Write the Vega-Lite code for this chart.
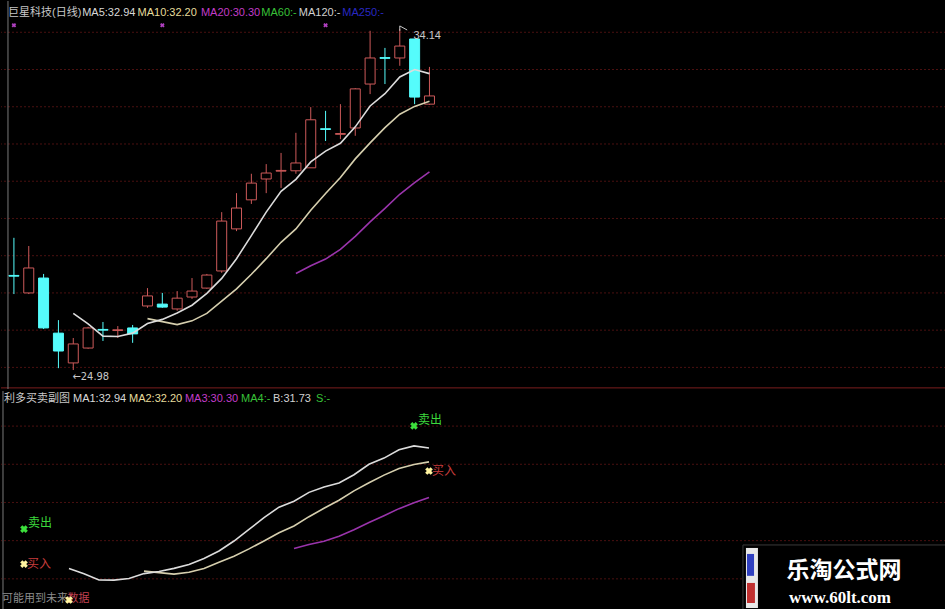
{
  "$schema": "https://vega.github.io/schema/vega-lite/v6.json",
  "background": "#000000",
  "padding": 0,
  "spacing": 2,
  "bounds": "flush",
  "config": {
    "view": {"stroke": null},
    "axis": {"disable": true},
    "legend": {"disable": true},
    "text": {"font": "Liberation Sans, Noto Sans CJK SC", "fontSize": 11, "align": "left", "baseline": "middle"}
  },
  "datasets": {
    "k": [
      {"i": 1, "o": 27.52, "h": 28.53, "l": 27.02, "c": 27.50},
      {"i": 2, "o": 27.05, "h": 28.31, "l": 27.02, "c": 27.72},
      {"i": 3, "o": 27.45, "h": 27.56, "l": 26.08, "c": 26.11},
      {"i": 4, "o": 25.97, "h": 26.32, "l": 25.03, "c": 25.49},
      {"i": 5, "o": 25.17, "h": 25.84, "l": 24.98, "c": 25.68, "m5": 26.50},
      {"i": 6, "o": 25.57, "h": 26.14, "l": 25.55, "c": 26.11, "m5": 26.22},
      {"i": 7, "o": 26.07, "h": 26.27, "l": 25.76, "c": 26.05, "m5": 25.89},
      {"i": 8, "o": 26.04, "h": 26.16, "l": 25.84, "c": 26.06, "m5": 25.88},
      {"i": 9, "o": 26.11, "h": 26.19, "l": 25.71, "c": 25.95, "m5": 25.97},
      {"i": 10, "o": 26.70, "h": 27.18, "l": 26.65, "c": 26.97, "m5": 26.23, "m10": 26.36},
      {"i": 11, "o": 26.75, "h": 27.05, "l": 26.65, "c": 26.67, "m5": 26.34, "m10": 26.28},
      {"i": 12, "o": 26.62, "h": 27.10, "l": 26.57, "c": 26.91, "m5": 26.51, "m10": 26.20},
      {"i": 13, "o": 26.94, "h": 27.45, "l": 26.89, "c": 27.10, "m5": 26.72, "m10": 26.30},
      {"i": 14, "o": 27.18, "h": 27.56, "l": 27.16, "c": 27.53, "m5": 27.04, "m10": 26.50},
      {"i": 15, "o": 27.64, "h": 29.22, "l": 27.59, "c": 28.98, "m5": 27.44, "m10": 26.83},
      {"i": 16, "o": 28.77, "h": 29.73, "l": 28.71, "c": 29.33, "m5": 27.97, "m10": 27.16},
      {"i": 17, "o": 29.55, "h": 30.25, "l": 29.44, "c": 30.00, "m5": 28.59, "m10": 27.55},
      {"i": 18, "o": 30.11, "h": 30.51, "l": 29.73, "c": 30.27, "m5": 29.22, "m10": 27.97},
      {"i": 19, "o": 30.32, "h": 30.81, "l": 29.87, "c": 30.34, "m5": 29.78, "m10": 28.41},
      {"i": 20, "o": 30.33, "h": 31.35, "l": 30.25, "c": 30.54, "m5": 30.10, "m10": 28.77, "m20": 27.57},
      {"i": 21, "o": 30.41, "h": 32.04, "l": 30.41, "c": 31.70, "m5": 30.57, "m10": 29.27, "m20": 27.78},
      {"i": 22, "o": 31.46, "h": 31.94, "l": 31.13, "c": 31.44, "m5": 30.86, "m10": 29.72, "m20": 27.96},
      {"i": 23, "o": 31.31, "h": 32.12, "l": 31.18, "c": 31.33, "m5": 31.07, "m10": 30.15, "m20": 28.22},
      {"i": 24, "o": 31.48, "h": 32.55, "l": 31.27, "c": 32.53, "m5": 31.51, "m10": 30.65, "m20": 28.57},
      {"i": 25, "o": 32.66, "h": 34.09, "l": 32.39, "c": 33.36, "m5": 32.07, "m10": 31.08, "m20": 28.96},
      {"i": 26, "o": 33.37, "h": 33.63, "l": 32.66, "c": 33.35, "m5": 32.40, "m10": 31.49, "m20": 29.32},
      {"i": 27, "o": 33.36, "h": 34.14, "l": 33.15, "c": 33.68, "m5": 32.85, "m10": 31.85, "m20": 29.70},
      {"i": 28, "o": 33.87, "h": 33.87, "l": 32.12, "c": 32.31, "m5": 33.05, "m10": 32.06, "m20": 30.01},
      {"i": 29, "o": 32.12, "h": 33.12, "l": 32.10, "c": 32.34, "m5": 32.94, "m10": 32.20, "m20": 30.30}
    ],
    "sig": [
      {"i": 2, "v": 28.61, "k": "sell", "s": "卖出"},
      {"i": 2, "v": 26.74, "k": "buy", "s": "买入"},
      {"i": 5, "v": 24.82, "k": "buy", "s": ""},
      {"i": 28, "v": 34.12, "k": "sell", "s": "卖出"},
      {"i": 29, "v": 31.71, "k": "buy", "s": "买入"}
    ]
  },
  "vconcat": [
    {
      "width": 945,
      "height": 388,
      "layer": [
        {
          "data": {"values": [{"g": 25.05}, {"g": 26.05}, {"g": 27.05}, {"g": 28.05}, {"g": 29.05}, {"g": 30.05}, {"g": 31.05}, {"g": 32.05}, {"g": 33.05}, {"g": 34.05}]},
          "mark": {"type": "rule", "color": "#4a1010", "strokeWidth": 1, "strokeDash": [2, 2]},
          "encoding": {
            "y": {"field": "g", "type": "quantitative", "scale": {"domain": [24.47, 34.89], "nice": false, "zero": false}}
          }
        },
        {
          "data": {"values": [{}]},
          "mark": {"type": "rule", "color": "#7a1e1e", "strokeWidth": 1},
          "encoding": {"y": {"datum": 24.5}}
        },
        {
          "data": {"values": [{}]},
          "mark": {"type": "rule", "color": "#7a7a7a", "strokeWidth": 1},
          "encoding": {"x": {"datum": 0.6, "scale": {"domain": [0.467, 63.467], "nice": false, "zero": false}}}
        },
        {
          "data": {"name": "k"},
          "mark": {"type": "rule", "strokeWidth": 1},
          "encoding": {
            "x": {"field": "i", "type": "quantitative"},
            "y": {"field": "l", "type": "quantitative"},
            "y2": {"field": "h"},
            "color": {"condition": {"test": "datum.c >= datum.o", "value": "#cd5a5a"}, "value": "#55fcfc"}
          }
        },
        {
          "data": {"name": "k"},
          "mark": {"type": "bar", "size": 10, "strokeWidth": 1},
          "encoding": {
            "x": {"field": "i", "type": "quantitative"},
            "y": {"field": "o", "type": "quantitative"},
            "y2": {"field": "c"},
            "stroke": {"condition": {"test": "datum.c >= datum.o", "value": "#cd5a5a"}, "value": "#55fcfc"},
            "fill": {"condition": {"test": "datum.c >= datum.o", "value": "#000000"}, "value": "#55fcfc"}
          }
        },
        {
          "data": {"name": "k"},
          "mark": {"type": "line", "color": "#9a34ac", "strokeWidth": 1.6},
          "encoding": {"x": {"field": "i", "type": "quantitative"}, "y": {"field": "m20", "type": "quantitative"}}
        },
        {
          "data": {"name": "k"},
          "mark": {"type": "line", "color": "#d6cfae", "strokeWidth": 1.6},
          "encoding": {"x": {"field": "i", "type": "quantitative"}, "y": {"field": "m10", "type": "quantitative"}}
        },
        {
          "data": {"name": "k"},
          "mark": {"type": "line", "color": "#dcdcdc", "strokeWidth": 1.6},
          "encoding": {"x": {"field": "i", "type": "quantitative"}, "y": {"field": "m5", "type": "quantitative"}}
        },
        {
          "data": {"values": [{"i": 1}, {"i": 11}, {"i": 22}]},
          "mark": {"type": "point", "shape": "cross", "angle": 45, "filled": true, "size": 22, "color": "#b040c0", "opacity": 1},
          "encoding": {"x": {"field": "i", "type": "quantitative"}, "y": {"datum": 34.24}}
        },
        {
          "data": {"values": [{"n": 1, "i": 27.0, "p": 34.09}, {"n": 2, "i": 27.0, "p": 34.22}, {"n": 3, "i": 27.5, "p": 34.11}]},
          "mark": {"type": "line", "color": "#c8c8c8", "strokeWidth": 1},
          "encoding": {"x": {"field": "i", "type": "quantitative"}, "y": {"field": "p", "type": "quantitative"}, "order": {"field": "n"}}
        },
        {
          "data": {"values": [{"t": "34.14"}]},
          "mark": {"type": "text", "color": "#c8c8c8"},
          "encoding": {"x": {"datum": 27.92}, "y": {"datum": 33.96}, "text": {"field": "t"}}
        },
        {
          "data": {"values": [{"t": "←24.98"}]},
          "mark": {"type": "text", "color": "#c8c8c8", "font": "DejaVu Sans Condensed, DejaVu Sans", "fontSize": 11},
          "encoding": {"x": {"datum": 4.95}, "y": {"datum": 24.8}, "text": {"field": "t"}}
        },
        {
          "data": {"values": [{"t": "巨星科技(日线)"}]},
          "mark": {"type": "text", "color": "#c8c8c8"},
          "encoding": {"x": {"datum": 0.6}, "y": {"datum": 34.56}, "text": {"field": "t"}}
        },
        {
          "data": {"values": [{"t": "MA5:32.94"}]},
          "mark": {"type": "text", "color": "#d8d8d8"},
          "encoding": {"x": {"datum": 5.6}, "y": {"datum": 34.56}, "text": {"field": "t"}}
        },
        {
          "data": {"values": [{"t": "MA10:32.20"}]},
          "mark": {"type": "text", "color": "#e6dc9c"},
          "encoding": {"x": {"datum": 9.33}, "y": {"datum": 34.56}, "text": {"field": "t"}}
        },
        {
          "data": {"values": [{"t": "MA20:30.30"}]},
          "mark": {"type": "text", "color": "#c23cc8"},
          "encoding": {"x": {"datum": 13.6}, "y": {"datum": 34.56}, "text": {"field": "t"}}
        },
        {
          "data": {"values": [{"t": "MA60:-"}]},
          "mark": {"type": "text", "color": "#38c038"},
          "encoding": {"x": {"datum": 17.67}, "y": {"datum": 34.56}, "text": {"field": "t"}}
        },
        {
          "data": {"values": [{"t": "MA120:-"}]},
          "mark": {"type": "text", "color": "#d0d0d0"},
          "encoding": {"x": {"datum": 20.2}, "y": {"datum": 34.56}, "text": {"field": "t"}}
        },
        {
          "data": {"values": [{"t": "MA250:-"}]},
          "mark": {"type": "text", "color": "#2828c0"},
          "encoding": {"x": {"datum": 23.13}, "y": {"datum": 34.56}, "text": {"field": "t"}}
        }
      ]
    },
    {
      "width": 945,
      "height": 219,
      "layer": [
        {
          "data": {"values": [{"g": 25.95}, {"g": 27.99}, {"g": 30.03}, {"g": 32.07}, {"g": 34.11}]},
          "mark": {"type": "rule", "color": "#4a1010", "strokeWidth": 1, "strokeDash": [2, 2]},
          "encoding": {
            "y": {"field": "g", "type": "quantitative", "scale": {"domain": [24.285, 35.985], "nice": false, "zero": false}}
          }
        },
        {
          "data": {"values": [{}]},
          "mark": {"type": "rule", "color": "#7a7a7a", "strokeWidth": 1},
          "encoding": {"x": {"datum": 0.6, "scale": {"domain": [0.467, 63.467], "nice": false, "zero": false}}}
        },
        {
          "data": {"name": "k"},
          "mark": {"type": "line", "color": "#9a34ac", "strokeWidth": 1.6},
          "encoding": {"x": {"field": "i", "type": "quantitative"}, "y": {"field": "m20", "type": "quantitative"}}
        },
        {
          "data": {"name": "k"},
          "mark": {"type": "line", "color": "#d6cfae", "strokeWidth": 1.6},
          "encoding": {"x": {"field": "i", "type": "quantitative"}, "y": {"field": "m10", "type": "quantitative"}}
        },
        {
          "data": {"name": "k"},
          "mark": {"type": "line", "color": "#dcdcdc", "strokeWidth": 1.6},
          "encoding": {"x": {"field": "i", "type": "quantitative"}, "y": {"field": "m5", "type": "quantitative"}}
        },
        {
          "data": {"values": [{"t": "可能用到未来"}]},
          "mark": {"type": "text", "color": "#8c8c8c"},
          "encoding": {"x": {"datum": 0.53}, "y": {"datum": 24.87}, "text": {"field": "t"}}
        },
        {
          "data": {"values": [{"t": "数据"}]},
          "mark": {"type": "text", "color": "#c04050"},
          "encoding": {"x": {"datum": 4.9}, "y": {"datum": 24.87}, "text": {"field": "t"}}
        },
        {
          "data": {"name": "sig"},
          "mark": {"type": "point", "shape": "cross", "angle": 45, "filled": true, "size": 60, "opacity": 1},
          "encoding": {
            "x": {"field": "i", "type": "quantitative"},
            "y": {"field": "v", "type": "quantitative"},
            "color": {"condition": {"test": "datum.k == 'sell'", "value": "#3ce03c"}, "value": "#fff4a0"}
          }
        },
        {
          "data": {"name": "sig"},
          "transform": [{"filter": "datum.k == 'sell'"}],
          "mark": {"type": "text", "color": "#3cd83c", "fontSize": 12, "dx": 4, "dy": -6},
          "encoding": {"x": {"field": "i", "type": "quantitative"}, "y": {"field": "v", "type": "quantitative"}, "text": {"field": "s"}}
        },
        {
          "data": {"name": "sig"},
          "transform": [{"filter": "datum.k == 'buy'"}],
          "mark": {"type": "text", "color": "#c83c3c", "fontSize": 12, "dx": 3, "dy": 0},
          "encoding": {"x": {"field": "i", "type": "quantitative"}, "y": {"field": "v", "type": "quantitative"}, "text": {"field": "s"}}
        },
        {
          "data": {"values": [{"t": "利多买卖副图"}]},
          "mark": {"type": "text", "color": "#c8c8c8"},
          "encoding": {"x": {"datum": 0.667}, "y": {"datum": 35.56}, "text": {"field": "t"}}
        },
        {
          "data": {"values": [{"t": "MA1:32.94"}]},
          "mark": {"type": "text", "color": "#d8d8d8"},
          "encoding": {"x": {"datum": 5.267}, "y": {"datum": 35.56}, "text": {"field": "t"}}
        },
        {
          "data": {"values": [{"t": "MA2:32.20"}]},
          "mark": {"type": "text", "color": "#e6dc9c"},
          "encoding": {"x": {"datum": 9.0}, "y": {"datum": 35.56}, "text": {"field": "t"}}
        },
        {
          "data": {"values": [{"t": "MA3:30.30"}]},
          "mark": {"type": "text", "color": "#c23cc8"},
          "encoding": {"x": {"datum": 12.73}, "y": {"datum": 35.56}, "text": {"field": "t"}}
        },
        {
          "data": {"values": [{"t": "MA4:-"}]},
          "mark": {"type": "text", "color": "#38c038"},
          "encoding": {"x": {"datum": 16.47}, "y": {"datum": 35.56}, "text": {"field": "t"}}
        },
        {
          "data": {"values": [{"t": "B:31.73"}]},
          "mark": {"type": "text", "color": "#d0d0d0"},
          "encoding": {"x": {"datum": 18.6}, "y": {"datum": 35.56}, "text": {"field": "t"}}
        },
        {
          "data": {"values": [{"t": "S:-"}]},
          "mark": {"type": "text", "color": "#38c038"},
          "encoding": {"x": {"datum": 21.47}, "y": {"datum": 35.56}, "text": {"field": "t"}}
        },
        {
          "data": {"values": [{}]},
          "mark": {"type": "rect", "fill": "#000000", "stroke": "#3a3a3a", "strokeWidth": 1},
          "encoding": {"x": {"datum": 49.93}, "x2": {"datum": 63.467}, "y": {"datum": 24.285}, "y2": {"datum": 27.76}}
        },
        {
          "data": {"values": [{}]},
          "mark": {"type": "rect", "fill": "#e8e8e8"},
          "encoding": {"x": {"datum": 50.13}, "x2": {"datum": 50.93}, "y": {"datum": 24.39}, "y2": {"datum": 27.6}}
        },
        {
          "data": {"values": [{}]},
          "mark": {"type": "rect", "fill": "#3040c0"},
          "encoding": {"x": {"datum": 50.2}, "x2": {"datum": 50.67}, "y": {"datum": 26.11}, "y2": {"datum": 27.28}}
        },
        {
          "data": {"values": [{}]},
          "mark": {"type": "rect", "fill": "#c03030"},
          "encoding": {"x": {"datum": 50.2}, "x2": {"datum": 50.73}, "y": {"datum": 24.66}, "y2": {"datum": 25.73}}
        },
        {
          "data": {"values": [{"t": "乐淘公式网"}]},
          "mark": {"type": "text", "color": "#ffffff", "align": "center", "font": "Noto Sans CJK SC", "fontWeight": "bold", "fontSize": 23},
          "encoding": {"x": {"datum": 56.67}, "y": {"datum": 26.36}, "text": {"field": "t"}}
        },
        {
          "data": {"values": [{"t": "www.60lt.com"}]},
          "mark": {"type": "text", "color": "#ffffff", "align": "center", "font": "Liberation Serif", "fontWeight": "bold", "fontSize": 17},
          "encoding": {"x": {"datum": 56.4}, "y": {"datum": 24.93}, "text": {"field": "t"}}
        }
      ]
    }
  ]
}
